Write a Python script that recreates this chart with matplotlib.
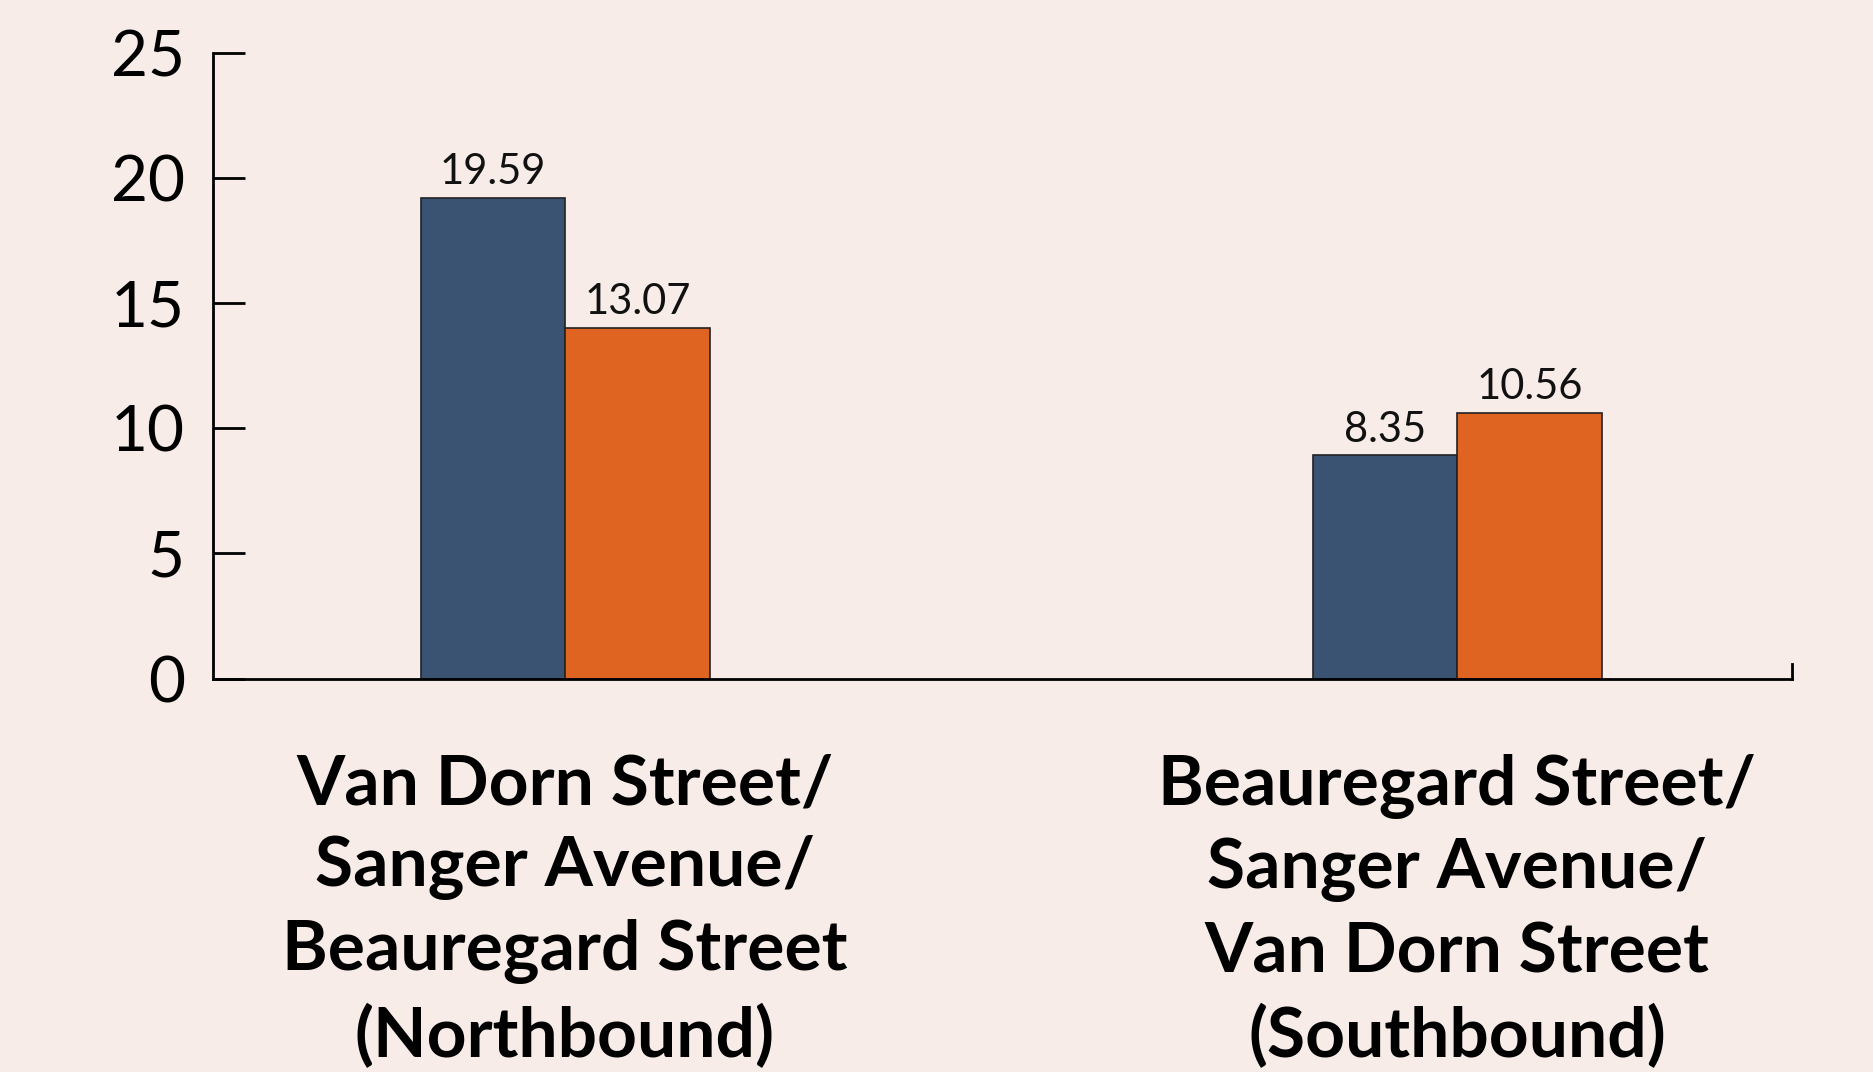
import matplotlib
matplotlib.use("Agg")
import matplotlib.pyplot as plt
import numpy as np

# bar heights as drawn, and the value labels printed above them
GROUPS = ["Van Dorn Street/\nSanger Avenue/\nBeauregard Street\n(Northbound)",
          "Beauregard Street/\nSanger Avenue/\nVan Dorn Street\n(Southbound)"]
SERIES_A = [19.19, 8.91]
SERIES_B = [13.99, 10.60]
LABELS_A = ["19.59", "8.35"]
LABELS_B = ["13.07", "10.56"]
Y_TICKS = [0, 5, 10, 15, 20, 25]

BG = "#F7ECE8"
BLUE = "#3A5372"
ORANGE = "#DF6321"

plt.rcParams["font.family"] = ["Lato", "DejaVu Sans"]

fig = plt.figure(figsize=(18.74, 10.72), dpi=100, facecolor=BG)
ax = fig.add_axes([0.1135, 0.367, 0.843, 0.584], facecolor=BG)

x = np.arange(len(GROUPS))
w = 0.162
bars_a = ax.bar(x - w / 2, SERIES_A, w, color=BLUE, edgecolor="#222222", linewidth=1.2)
bars_b = ax.bar(x + w / 2, SERIES_B, w, color=ORANGE, edgecolor="#222222", linewidth=1.2)
ax.bar_label(bars_a, labels=LABELS_A, padding=5, fontsize=30, color="#111111")
ax.bar_label(bars_b, labels=LABELS_B, padding=5, fontsize=30, color="#111111")

ax.set_xlim(-0.395, 1.376)
ax.set_ylim(0, 25)
ax.set_yticks(Y_TICKS)
ax.set_yticklabels([str(v) for v in Y_TICKS])
ax.tick_params(axis="y", direction="in", length=23, width=2, pad=20, labelsize=46)
ax.set_xticks(x)
ax.set_xticklabels(GROUPS, fontsize=50, fontweight="bold", linespacing=1.37)
ax.tick_params(axis="x", length=0, pad=54)

ax.spines["top"].set_visible(False)
ax.spines["left"].set_linewidth(2)
ax.spines["bottom"].set_linewidth(2)
ax.spines["right"].set_linewidth(2)
ax.spines["right"].set_bounds(0, 0.6)

fig.savefig("out.png", dpi=100, facecolor=BG)
